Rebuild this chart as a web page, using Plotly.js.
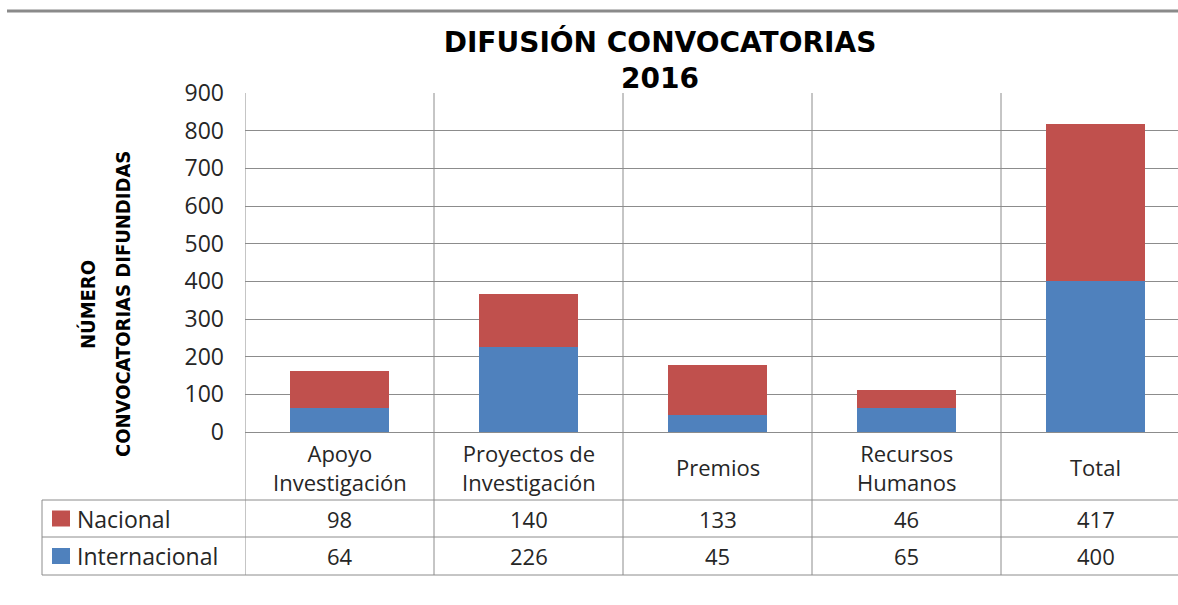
<!DOCTYPE html>
<html>
<head>
<meta charset="utf-8">
<script src="https://cdn.plot.ly/plotly-3.0.1.min.js"></script>
<style>
  body { margin: 0; background: #fff; }
  #chart { width: 1178px; height: 605px; }
</style>
</head>
<body>
<div id="chart"></div>
<script>
// data
var categories = ["Apoyo Investigación", "Proyectos de Investigación", "Premios", "Recursos Humanos", "Total"];
var catLabels = ["Apoyo<br>Investigación", "Proyectos de<br>Investigación", "Premios", "Recursos<br>Humanos", "Total"];
var nacional = [98, 140, 133, 46, 417];
var internacional = [64, 226, 45, 65, 400];
var seriesNames = ["Nacional", "Internacional"];
var yTicks = [0, 100, 200, 300, 400, 500, 600, 700, 800, 900];

var red = "#C0504D";
var blue = "#4F81BD";
var gridColor = "#8c8c8c";
var font = "Open Sans, Lato, sans-serif";
var narrow = "Liberation Sans Narrow, DejaVu Sans Condensed, sans-serif";

// plot area: 245..1178 px wide, 93..432 px tall, each category 189 px
var plotLeft = 245, plotTop = 93, plotBottom = 432, catW = 189;
var plotW = 1178 - plotLeft, plotH = plotBottom - plotTop;
function px(x) { return (x - plotLeft) / plotW; }
function py(y) { return (plotBottom - y) / plotH; }

var rowLines = [500, 537, 575];

var traces = [
  {x: categories, y: internacional, type: "bar", name: seriesNames[1],
   marker: {color: blue}, width: 0.52, hoverinfo: "y+name"},
  {x: categories, y: nacional, type: "bar", name: seriesNames[0],
   marker: {color: red}, width: 0.52, hoverinfo: "y+name"}
];

var shapes = [];
var annotations = [];

// grey rule at the top
shapes.push({type: "line", xref: "paper", yref: "paper",
  x0: px(7), x1: 1.02, y0: py(11), y1: py(11),
  line: {color: "#8a8a8a", width: 3}});

// vertical lines at category boundaries, down through the table
for (var i = 0; i <= categories.length; i++) {
  shapes.push({type: "line", xref: "x", yref: "paper",
    x0: i - 0.5, x1: i - 0.5, y0: 1, y1: py(rowLines[2]),
    line: {color: gridColor, width: 1}});
}
// table horizontal lines and left border
rowLines.forEach(function(r) {
  shapes.push({type: "line", xref: "paper", yref: "paper",
    x0: px(42), x1: 1.02, y0: py(r), y1: py(r),
    line: {color: gridColor, width: 1}});
});
shapes.push({type: "line", xref: "paper", yref: "paper",
  x0: px(42), x1: px(42), y0: py(rowLines[0]), y1: py(rowLines[2]),
  line: {color: gridColor, width: 1}});

// category labels
categories.forEach(function(c, i) {
  annotations.push({x: c, xref: "x", y: py(467), yref: "paper",
    xanchor: "center", yanchor: "middle",
    text: catLabels[i], showarrow: false, align: "center",
    font: {family: font, size: 22, color: "#262626"}});
});

// table rows: legend key + values
var rows = [nacional, internacional];
var rowColors = [red, blue];
rows.forEach(function(vals, r) {
  var top = rowLines[r], bot = rowLines[r + 1], mid = (top + bot) / 2;
  shapes.push({type: "rect", xref: "paper", yref: "paper",
    x0: px(52), x1: px(70), y0: py(mid - 8), y1: py(mid + 8),
    fillcolor: rowColors[r], line: {width: 0}});
  annotations.push({x: px(75), xref: "paper", y: py(mid), yref: "paper",
    xanchor: "left", yanchor: "middle", text: seriesNames[r], showarrow: false,
    font: {family: font, size: 23, color: "#262626"}});
  vals.forEach(function(v, i) {
    annotations.push({x: categories[i], xref: "x", y: py(mid), yref: "paper",
      xanchor: "center", yanchor: "middle",
      text: String(v), showarrow: false,
      font: {family: font, size: 22, color: "#262626"}});
  });
});

// y axis title, two lines
annotations.push({x: px(88), xref: "paper", y: py(305), yref: "paper",
  xanchor: "center", yanchor: "middle",
  text: "NÚMERO", textangle: -90, showarrow: false,
  font: {family: narrow, size: 20, color: "#000", weight: "bold"}});
annotations.push({x: px(123), xref: "paper", y: py(304), yref: "paper",
  xanchor: "center", yanchor: "middle",
  text: "CONVOCATORIAS DIFUNDIDAS", textangle: -90, showarrow: false,
  font: {family: narrow, size: 20, color: "#000", weight: "bold"}});

var layout = {
  width: 1178, height: 605,
  margin: {l: plotLeft, r: 0, t: plotTop, b: 605 - plotBottom},
  paper_bgcolor: "#fff", plot_bgcolor: "#fff",
  barmode: "stack",
  showlegend: false,
  title: {text: "DIFUSIÓN CONVOCATORIAS<br>2016", xref: "container", x: 660 / 1178,
    xanchor: "center", yref: "container", y: 1 - 52 / 605, yanchor: "top",
    font: {family: "DejaVu Sans, sans-serif", size: 28, color: "#000", weight: "bold"}},
  xaxis: {type: "category", range: [-0.5, -0.5 + plotW / catW],
    showgrid: false, showticklabels: false, zeroline: false, fixedrange: true},
  yaxis: {range: [0, 900], tickvals: yTicks, showgrid: true, gridcolor: gridColor,
    zeroline: true, zerolinecolor: gridColor, showline: false,
    ticklabelstandoff: 20,
    tickfont: {family: font, size: 23, color: "#262626"}, fixedrange: true},
  shapes: shapes,
  annotations: annotations
};

Plotly.newPlot("chart", traces, layout, {displayModeBar: false, staticPlot: true});
</script>
</body>
</html>
